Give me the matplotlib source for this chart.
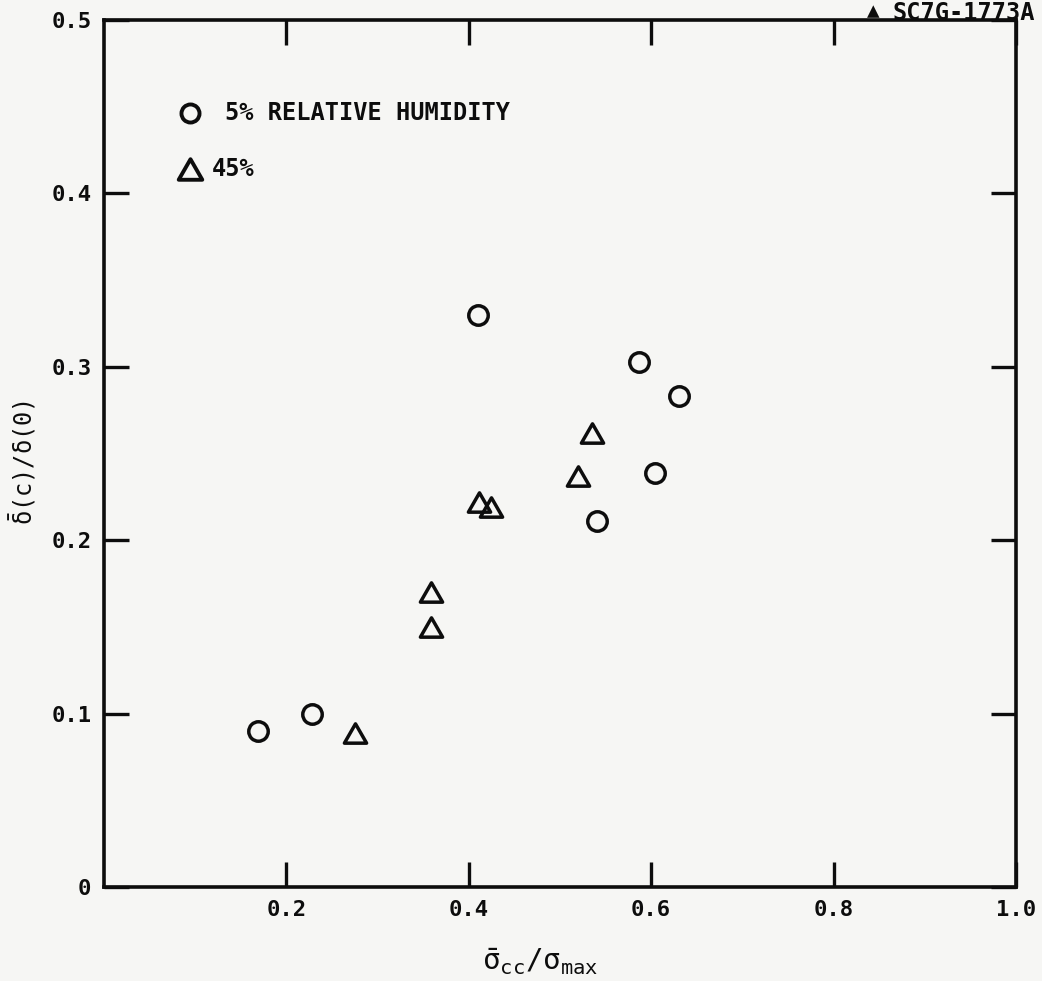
import matplotlib
matplotlib.use('Agg')
import matplotlib.pyplot as plt
from matplotlib.path import Path

plt.rcParams['font.family'] = ['DejaVu Sans Mono', 'DejaVu Sans']
plt.rcParams['mathtext.fontset'] = 'custom'
plt.rcParams['mathtext.rm'] = 'DejaVu Sans Mono'
plt.rcParams['mathtext.it'] = 'DejaVu Sans Mono'

# 5% relative humidity
rh5_x = [0.169, 0.228, 0.410, 0.587, 0.631, 0.604, 0.541]
rh5_y = [0.090, 0.100, 0.330, 0.303, 0.283, 0.239, 0.211]

# 45% relative humidity
rh45_x = [0.275, 0.359, 0.359, 0.411, 0.424, 0.520, 0.535]
rh45_y = [0.089, 0.170, 0.150, 0.222, 0.219, 0.237, 0.262]

x_ticks = [0.2, 0.4, 0.6, 0.8, 1.0]
x_tick_labels = ['0.2', '0.4', '0.6', '0.8', '1.0']
y_ticks = [0, 0.1, 0.2, 0.3, 0.4, 0.5]
y_tick_labels = ['0', '0.1', '0.2', '0.3', '0.4', '0.5']

# open triangle, a bit wider than tall
tri = Path([(-1, -0.87), (1, -0.87), (0, 0.87), (-1, -0.87)],
           [Path.MOVETO, Path.LINETO, Path.LINETO, Path.CLOSEPOLY])
ink = '#0d0d0d'
paper = '#f6f6f4'

fig = plt.figure(figsize=(10.42, 9.81), dpi=100, facecolor=paper)
ax = fig.add_axes([0.0998, 0.0958, 0.8752, 0.8838])
ax.set_facecolor(paper)

ax.plot(rh5_x, rh5_y, linestyle='none', marker='o', markersize=14,
        markerfacecolor='none', markeredgecolor=ink, markeredgewidth=2.5)
ax.plot(rh45_x, rh45_y, linestyle='none', marker=tri, markersize=16,
        markerfacecolor='none', markeredgecolor=ink, markeredgewidth=2.5)

ax.set_xlim(0, 1.0)
ax.set_ylim(0, 0.5)
ax.set_xticks(x_ticks)
ax.set_xticklabels(x_tick_labels)
ax.set_yticks(y_ticks)
ax.set_yticklabels(y_tick_labels)
ax.tick_params(direction='in', top=True, right=True, length=18, width=2.4,
               color=ink, labelsize=16, labelcolor=ink, pad=9)
for lbl in ax.get_xticklabels() + ax.get_yticklabels():
    lbl.set_fontweight('bold')
for s in ax.spines.values():
    s.set_linewidth(2.6)
    s.set_color(ink)

# hand-lettered key
ax.plot([0.094], [0.893], transform=ax.transAxes, linestyle='none', marker='o',
        markersize=13, markerfacecolor='none', markeredgecolor=ink,
        markeredgewidth=2.8, clip_on=False)
ax.text(0.133, 0.893, '5% RELATIVE HUMIDITY', transform=ax.transAxes,
        fontsize=17, fontweight='bold', va='center', ha='left', color=ink)
ax.plot([0.094], [0.828], transform=ax.transAxes, linestyle='none', marker=tri,
        markersize=17, markerfacecolor='none', markeredgecolor=ink,
        markeredgewidth=2.8, clip_on=False)
ax.text(0.118, 0.828, '45%', transform=ax.transAxes,
        fontsize=17, fontweight='bold', va='center', ha='left', color=ink)

ax.set_xlabel(r'$\bar{\sigma}_{\mathrm{cc}}/\sigma_{\mathrm{max}}$', fontsize=21,
              color=ink)
ax.xaxis.set_label_coords(0.478, -0.068)
ax.set_ylabel(r'$\bar{\delta}(\mathrm{c})/\delta(0)$', fontsize=17, color=ink)
ax.yaxis.set_label_coords(-0.072, 0.49)

# drawing number in the top corner
fig.text(0.838, 0.999, '\u25b2', fontsize=15, ha='center', va='top', color=ink)
fig.text(0.857, 0.999, 'SC7G-1773A', fontsize=17, fontweight='bold',
         ha='left', va='top', color=ink)

fig.savefig('out.png', dpi=100, facecolor=paper)
